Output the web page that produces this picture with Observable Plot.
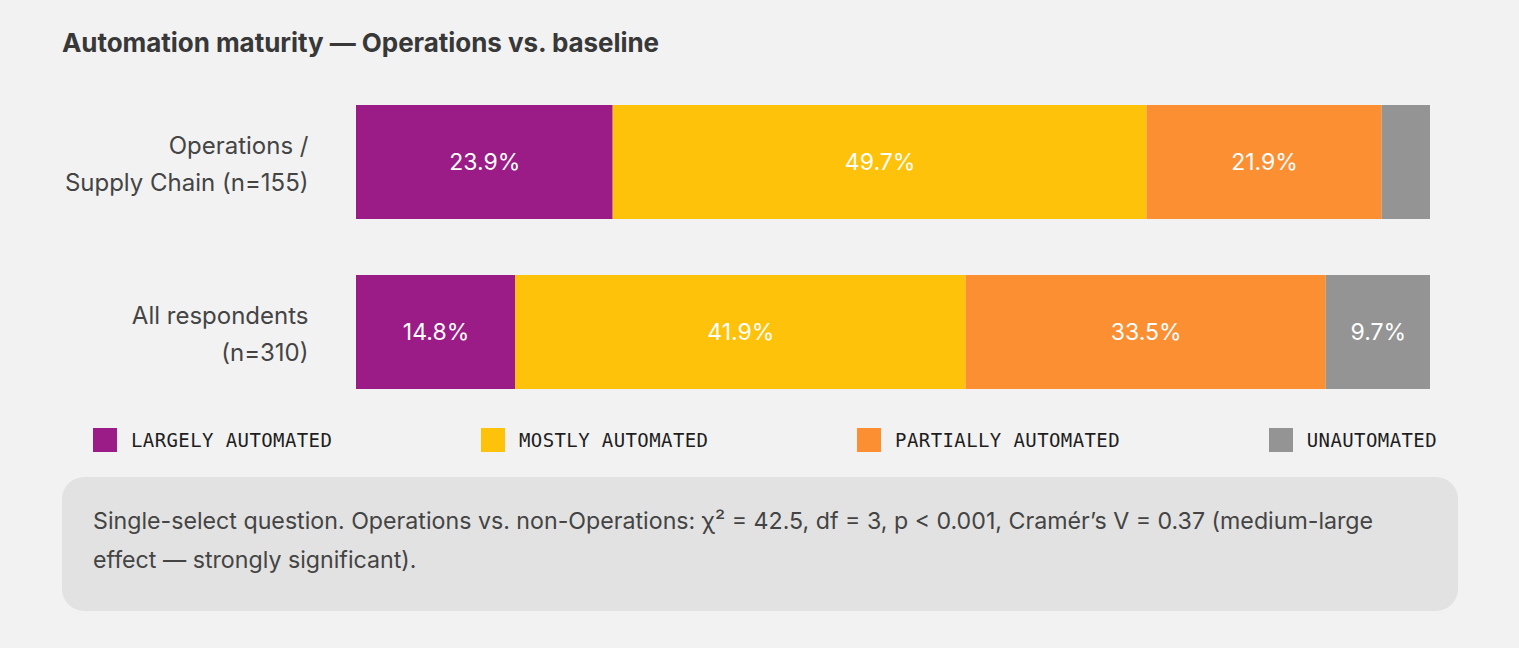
<!DOCTYPE html>
<html>
<head>
<meta charset="utf-8">
<script src="https://cdn.jsdelivr.net/npm/d3@7"></script>
<script src="https://cdn.jsdelivr.net/npm/@observablehq/plot@0.6"></script>
<style>
  html, body { margin: 0; padding: 0; background: #f2f2f2; }
  body { width: 1519px; height: 648px; overflow: hidden; font-family: Inter, "Noto Sans", sans-serif; }
  #wrap { position: relative; margin-left: 62px; width: 1396px; }
  h1 { margin: 0; padding-top: 28px; font-size: 26px; line-height: 30px; font-weight: 700; color: #383838; letter-spacing: -0.05px; }
  #chart { margin-top: 30px; height: 318px; }
  #legend { display: flex; justify-content: space-between; padding: 0 21px 0 31px; margin-top: 22px; height: 24px; align-items: center; }
  .item { display: flex; align-items: center; font-family: "DejaVu Sans Mono", "Liberation Mono", monospace; font-size: 19px; letter-spacing: 0.4px; color: #1e1e1e; }
  .sw { width: 24px; height: 24px; margin-right: 14px; }
  #note { margin-top: 25px; background: #e2e2e2; border-radius: 22px; padding: 25px 31px 31px; font-size: 23.2px; line-height: 39px; color: #444; }
</style>
</head>
<body>
<div id="wrap">
  <h1>Automation maturity — Operations vs. baseline</h1>
  <div id="chart"></div>
  <div id="legend"></div>
  <div id="note">Single-select question. Operations vs. non-Operations: χ² = 42.5, df = 3, p &lt; 0.001, Cramér’s V = 0.37 (medium-large<br>effect — strongly significant).</div>
</div>
<script>
const categories = ["Largely automated", "Mostly automated", "Partially automated", "Unautomated"];
const groups = ["Operations /\nSupply Chain (n=155)", "All respondents\n(n=310)"];
const opsValues = [23.9, 49.7, 21.9, 4.5];
const allValues = [14.8, 41.9, 33.5, 9.7];
const colors = ["#9b1b87", "#ffc20a", "#fd8f33", "#949494"];

const data = [opsValues, allValues].flatMap((vals, gi) =>
  vals.map((v, i) => ({group: groups[gi], category: categories[i], value: v}))
);

const chart = Plot.plot({
  width: 1396,
  height: 318,
  marginLeft: 294,
  marginRight: 28,
  marginTop: 16,
  marginBottom: 16,
  style: {background: "transparent", fontFamily: "Inter, sans-serif", color: "#444"},
  x: {axis: null, domain: [0, 1]},
  y: {domain: groups, paddingInner: 0.327, paddingOuter: 0, label: null},
  color: {domain: categories, range: colors},
  marks: [
    Plot.axisY({tickSize: 0, tickPadding: 48, fontSize: 24, lineHeight: 1.54, label: null, tickFormat: d => d, dy: -2}),
    Plot.barX(data, Plot.stackX({x: "value", y: "group", fill: "category", offset: "normalize"})),
    Plot.text(data, Plot.stackX({
      x: "value", y: "group", z: "category", offset: "normalize",
      text: d => d.value < 5 ? "" : d.value.toFixed(1) + "%",
      fill: "white", fontSize: 23
    }))
  ]
});
document.getElementById("chart").appendChild(chart);

const legend = document.getElementById("legend");
categories.forEach((c, i) => {
  const it = document.createElement("div");
  it.className = "item";
  it.innerHTML = `<span class="sw" style="background:${colors[i]}"></span><span>${c.toUpperCase()}</span>`;
  legend.appendChild(it);
});
</script>
</body>
</html>
